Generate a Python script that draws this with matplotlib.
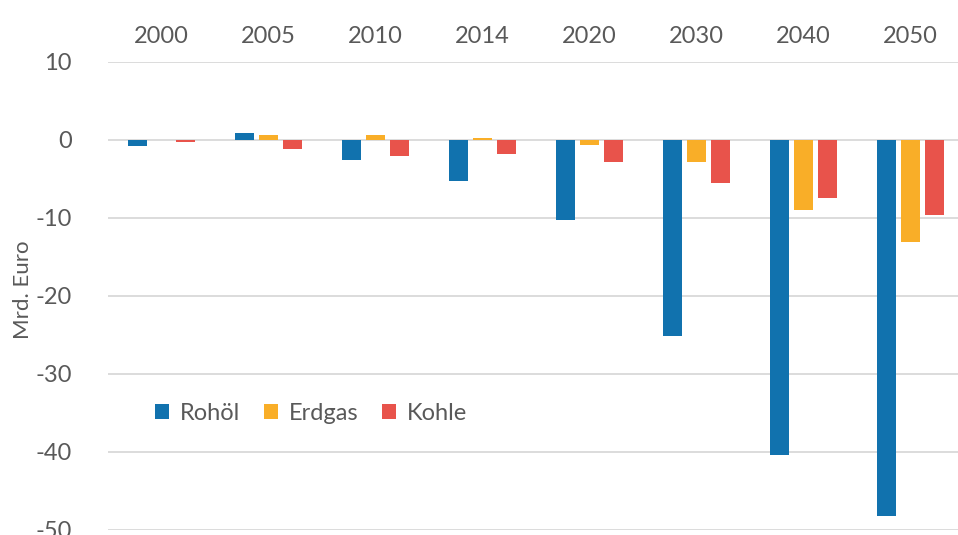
import matplotlib
matplotlib.use("Agg")
import matplotlib.pyplot as plt
import numpy as np

plt.rcParams['font.family'] = ['Lato', 'DejaVu Sans']
plt.rcParams['axes.unicode_minus'] = False

years = ["2000", "2005", "2010", "2014", "2020", "2030", "2040", "2050"]
rohoel = [-0.8, 0.9, -2.6, -5.3, -10.3, -25.1, -40.4, -48.2]
erdgas = [0.0, 0.7, 0.6, 0.3, -0.6, -2.8, -9.0, -13.1]
kohle = [-0.3, -1.1, -2.0, -1.8, -2.8, -5.5, -7.4, -9.6]
series = [("Rohöl", rohoel, "#1172ae"), ("Erdgas", erdgas, "#f9ae28"), ("Kohle", kohle, "#e8534b")]

W, H = 958, 535
fig = plt.figure(figsize=(W / 100, H / 100), dpi=100)
left_px, right_px = 108, 964
top_px, bot_px = 62, 530
ax = fig.add_axes([left_px / W, 1 - bot_px / H, (right_px - left_px) / W, (bot_px - top_px) / H])

x = np.arange(len(years))
bw = 0.178
step = 0.224
for i, (name, vals, col) in enumerate(series):
    ax.bar(x + (i - 1) * step, vals, width=bw, color=col, label=name, zorder=3)

ax.set_xlim(-0.5, len(years) - 0.5)
ax.set_ylim(-50, 10)
ax.set_yticks(np.arange(-50, 11, 10))
ax.grid(axis='y', color='#d9d9d9', linewidth=1.3, zorder=0)
ax.grid(axis='x', visible=False)
for s in ax.spines.values():
    s.set_visible(False)

ax.xaxis.tick_top()
ax.set_xticks(x)
ax.set_xticklabels(years)
ax.tick_params(axis='x', length=0, pad=11, labelsize=17, colors='#595959')
ax.tick_params(axis='y', length=0, pad=26, labelsize=17, colors='#595959')
for lbl in ax.get_yticklabels():
    lbl.set_clip_on(False)

ax.set_ylabel("Mrd. Euro", fontsize=16, color='#595959')
ax.yaxis.set_label_coords((33 - left_px) / (right_px - left_px), (bot_px - 290) / (bot_px - top_px))

leg = ax.legend(loc='center left', bbox_to_anchor=(134 / W, 1 - 413 / H),
                bbox_transform=fig.transFigure, frameon=False, ncol=3,
                fontsize=17, handlelength=0.6, handleheight=0.6,
                handletextpad=0.45, columnspacing=1.0, labelcolor='#595959')

fig.savefig("out.png", dpi=100)
